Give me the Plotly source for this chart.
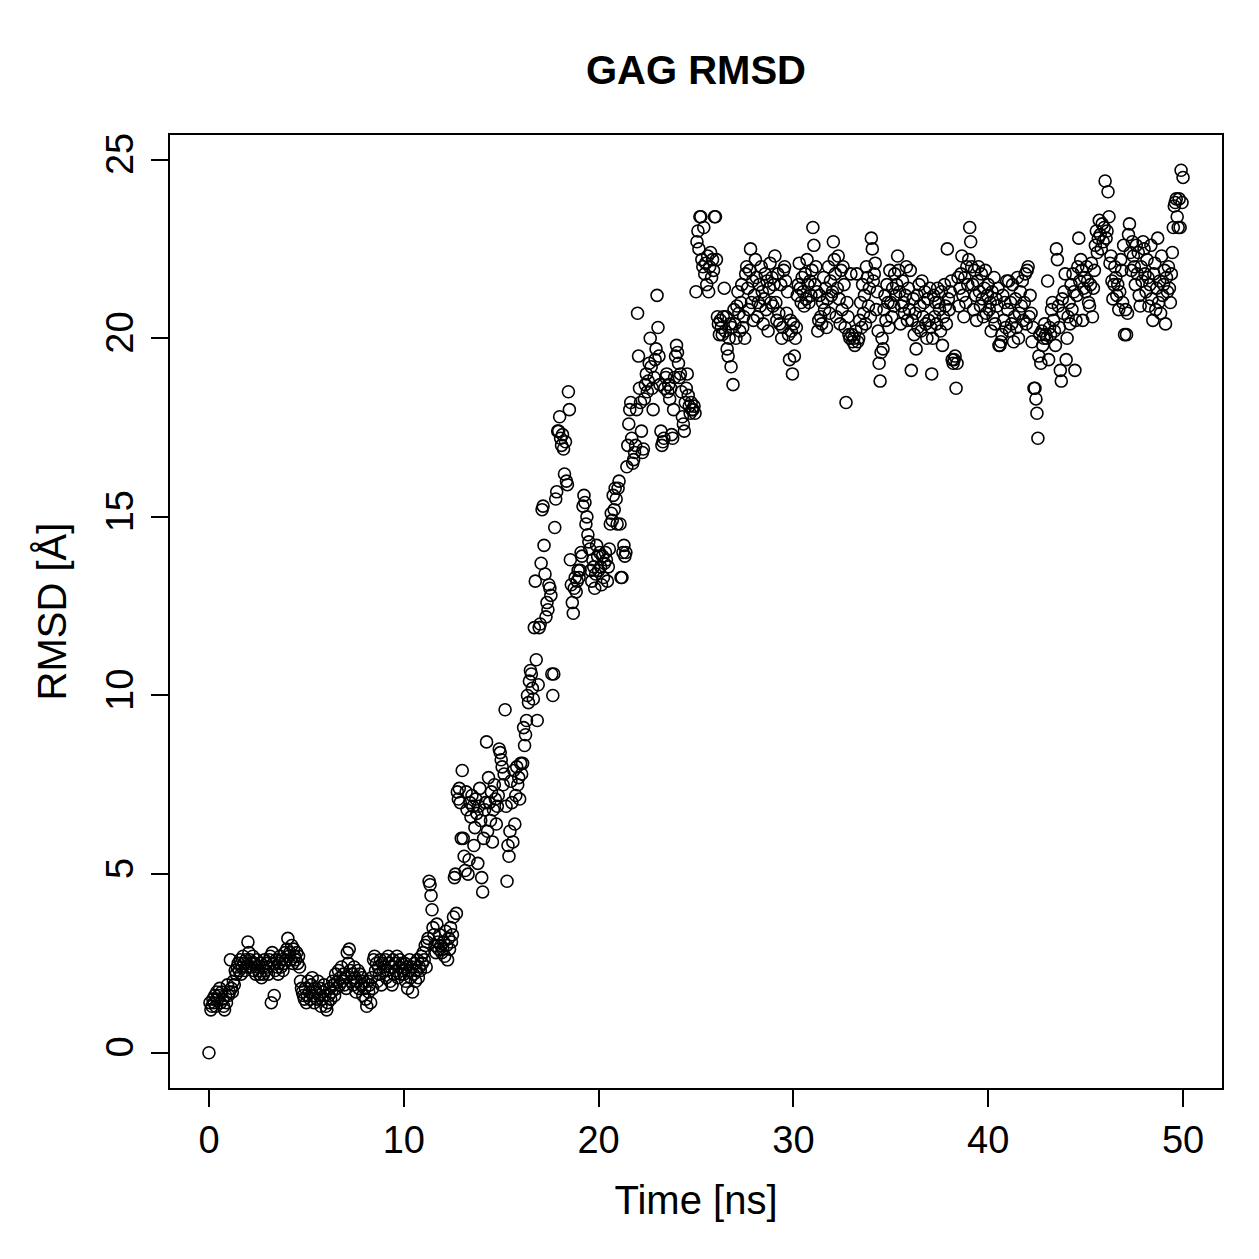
import numpy as np
import plotly.graph_objects as go

# RMSD values (Angstrom), one row per nanosecond, sampled every 0.05 ns
rmsd_00_10 = [
    0.0, 1.4, 1.2, 1.3, 1.5, 1.4, 1.6, 1.3, 1.7, 1.5, 1.6, 1.8, 1.4, 1.7, 1.5, 1.3, 1.2, 1.6, 1.4, 1.9,
    1.6, 1.7, 2.6, 1.8, 1.7, 2.0, 1.9, 2.3, 2.2, 2.4, 2.5, 2.3, 2.6, 2.2, 2.4, 2.7, 2.5, 2.3, 2.6, 2.4,
    3.1, 2.8, 2.6, 2.5, 2.4, 2.7, 2.3, 2.5, 2.2, 2.6, 2.4, 2.3, 2.2, 2.5, 2.1, 2.4, 2.2, 2.6, 2.3, 2.5,
    2.4, 2.2, 2.6, 2.7, 1.4, 2.8, 2.5, 1.6, 2.3, 2.6, 2.4, 2.2, 2.5, 2.7, 2.4, 2.6, 2.3, 2.5, 2.8, 2.6,
    2.9, 3.2, 2.7, 2.8, 2.6, 3.0, 2.5, 2.9, 2.7, 2.6, 2.8, 2.5, 2.7, 2.4, 2.0, 1.8, 1.7, 1.6, 1.5, 1.8,
    1.4, 1.6, 2.0, 1.7, 1.5, 1.9, 2.1, 1.6, 1.4, 1.8, 1.7, 1.5, 2.0, 1.6, 1.8, 1.3, 1.5, 1.7, 1.9, 1.6,
    1.3, 1.2, 1.4, 1.6, 1.8, 1.5, 1.7, 2.0, 1.9, 1.6, 2.2, 1.8, 2.0, 2.3, 1.9, 2.1, 2.4, 2.0, 2.2, 1.9,
    2.1, 1.8, 2.8, 2.5, 2.9, 2.3, 2.0, 2.2, 1.9, 2.4, 2.1, 1.7, 2.0, 2.3, 1.8, 2.2, 1.9, 2.1, 1.6, 2.0,
    1.8, 1.5, 1.3, 2.0, 1.7, 1.9, 1.4, 2.1, 1.8, 2.6, 2.7, 2.3, 2.5, 2.0, 2.4, 2.2, 2.6, 1.9, 2.5, 2.3,
    2.4, 2.6, 2.1, 2.3, 2.7, 2.5, 2.0, 2.4, 1.9, 2.6, 2.2, 2.5, 2.3, 2.7, 2.1, 2.4, 2.6, 2.2, 2.5, 2.3,
]
rmsd_10_20 = [
    2.2, 2.5, 2.0, 2.4, 1.8, 2.3, 2.6, 2.1, 2.4, 1.7, 2.2, 2.5, 2.0, 2.3, 2.6, 2.1, 2.4, 2.3, 2.7, 2.5,
    2.8, 2.6, 3.0, 2.4, 3.1, 3.2, 4.8, 4.7, 4.4, 4.0, 3.5, 3.3, 3.0, 2.8, 3.6, 3.1, 2.9, 3.3, 3.0, 2.8,
    2.9, 3.1, 2.7, 3.4, 3.0, 2.6, 3.2, 2.9, 3.5, 3.1, 3.3, 3.8, 4.9, 5.0, 3.9, 7.3, 7.1, 7.4, 7.0, 6.0,
    7.9, 6.0, 5.5, 5.1, 7.3, 6.8, 5.0, 5.4, 7.0, 6.6, 7.2, 6.9, 5.8, 6.3, 7.1, 6.7, 5.3, 6.9, 7.4, 6.5,
    4.9, 4.5, 6.0, 6.8, 7.0, 8.7, 6.2, 7.7, 7.0, 6.5, 7.3, 5.9, 6.8, 7.5, 7.1, 6.4, 6.9, 7.2, 8.5, 8.4,
    8.2, 8.0, 7.5, 7.8, 9.6, 6.9, 4.8, 5.8, 5.5, 6.2, 7.6, 7.0, 5.9, 7.9, 6.4, 7.2, 8.0, 7.5, 7.7, 7.1,
    8.1, 7.8, 8.1, 9.1, 8.6, 8.9, 9.3, 10.0, 9.8, 10.4, 10.7, 10.6, 10.2, 9.9, 11.9, 13.2, 11.0, 9.3, 10.3, 11.9,
    12.0, 13.7, 15.2, 15.3, 14.2, 13.4, 12.2, 12.6, 12.4, 13.1, 13.0, 12.8, 10.6, 10.0, 10.6, 14.7, 15.5, 15.7, 17.4, 17.4,
    17.8, 17.2, 17.0, 17.3, 16.9, 16.2, 17.1, 16.0, 15.9, 18.5, 18.0, 13.8, 13.1, 12.6, 12.3, 13.0, 13.3, 12.9, 13.2, 13.5,
    13.3, 13.5, 14.0, 13.9, 15.3, 15.6, 15.4, 14.8, 15.0, 14.5, 14.3, 14.1, 13.5, 13.2, 13.8, 13.6, 13.0, 13.4, 14.2, 13.9,
]
rmsd_20_30 = [
    13.5, 14.0, 13.6, 13.1, 13.9, 13.3, 13.7, 14.0, 13.8, 13.2, 13.6, 14.1, 14.8, 15.1, 14.9, 15.6, 15.2, 15.8, 15.5, 14.8,
    15.8, 16.0, 14.8, 13.3, 13.3, 14.0, 14.2, 13.9, 14.0, 16.4, 17.0, 17.6, 18.0, 18.2, 17.2, 16.5, 16.6, 16.8, 17.0, 18.0,
    20.7, 19.5, 18.6, 18.2, 17.4, 16.8, 16.9, 18.3, 18.7, 19.0, 18.5, 18.8, 19.3, 20.0, 19.2, 18.6, 18.0, 18.9, 19.4, 19.7,
    21.2, 20.3, 19.5, 18.7, 17.4, 17.0, 17.1, 17.2, 18.6, 18.9, 19.0, 18.5, 18.7, 18.3, 18.6, 17.3, 17.2, 18.0, 18.9, 19.5,
    19.8, 19.6, 19.3, 18.9, 19.0, 18.5, 17.8, 17.6, 17.4, 18.2, 18.6, 19.0, 18.4, 18.1, 17.9, 18.2, 18.0, 18.0, 18.1, 17.9,
    21.3, 22.7, 23.0, 22.5, 23.4, 23.4, 22.2, 22.0, 23.1, 21.8, 22.1, 21.5, 22.3, 21.3, 22.0, 22.4, 21.7, 22.2, 21.9, 23.4,
    23.4, 22.2, 20.6, 20.4, 20.1, 20.5, 20.3, 20.1, 20.6, 21.4, 20.2, 20.6, 19.7, 19.5, 20.0, 20.4, 19.2, 20.3, 18.7, 20.8,
    20.4, 20.0, 20.9, 21.3, 20.7, 20.2, 21.0, 21.5, 20.3, 20.6, 20.0, 21.8, 22.0, 21.4, 20.8, 21.9, 22.5, 21.0, 21.6, 20.5,
    21.2, 22.2, 21.7, 20.6, 21.0, 21.5, 20.9, 22.0, 21.3, 20.4, 21.1, 21.8, 20.8, 21.6, 20.2, 21.4, 22.1, 21.0, 21.7, 20.9,
    21.5, 22.3, 21.0, 20.5, 21.8, 20.7, 20.4, 21.5, 20.0, 20.3, 21.9, 22.0, 21.6, 20.7, 21.3, 20.1, 19.4, 20.5, 20.2, 19.0,
]
rmsd_30_40 = [
    20.4, 19.5, 20.0, 20.3, 21.2, 21.5, 22.1, 21.4, 21.0, 21.7, 21.3, 20.9, 21.8, 21.1, 22.2, 21.5, 21.0, 21.6, 21.2, 21.9,
    23.1, 22.6, 21.5, 22.0, 21.3, 20.2, 20.5, 21.2, 20.6, 20.4, 21.0, 21.7, 20.8, 21.4, 20.3, 21.1, 22.0, 20.7, 21.6, 21.2,
    21.3, 22.7, 22.2, 21.8, 20.6, 21.4, 22.3, 21.1, 20.4, 21.9, 20.8, 22.0, 21.5, 20.3, 18.2, 21.0, 20.6, 20.1, 20.0, 21.8,
    20.1, 19.9, 20.0, 19.8, 20.2, 21.8, 19.9, 20.0, 20.5, 21.0, 20.3, 21.5, 20.7, 21.2, 20.4, 22.0, 21.7, 20.9, 21.4, 20.6,
    22.8, 22.5, 21.6, 21.8, 22.1, 20.8, 21.3, 20.2, 19.3, 18.8, 19.6, 20.0, 19.7, 20.8, 21.2, 20.5, 21.5, 21.0, 20.3, 21.9,
    21.0, 20.6, 21.4, 20.9, 21.8, 21.2, 21.5, 22.3, 21.9, 21.3, 20.4, 20.9, 21.6, 21.0, 20.7, 21.2, 22.0, 20.5, 21.4, 20.8,
    21.9, 19.1, 20.5, 21.1, 20.1, 20.7, 19.7, 21.2, 20.3, 21.5, 20.9, 20.2, 21.6, 20.6, 21.0, 21.3, 20.4, 20.0, 21.1, 20.5,
    21.4, 20.3, 19.0, 20.0, 21.2, 20.6, 21.0, 20.4, 21.4, 21.0, 20.8, 20.2, 21.3, 19.8, 20.6, 21.5, 20.9, 20.4, 22.5, 21.1,
    20.8, 21.3, 21.6, 19.4, 19.3, 19.4, 19.5, 18.6, 19.3, 21.7, 20.9, 21.4, 21.8, 22.3, 21.2, 20.6, 21.7, 21.0, 22.0, 21.5,
    22.2, 23.1, 22.7, 22.0, 21.5, 20.8, 21.9, 21.2, 20.5, 21.6, 22.0, 21.3, 20.9, 21.8, 21.1, 20.6, 21.4, 21.9, 20.7, 21.2,
]
rmsd_40_50 = [
    21.5, 20.8, 21.0, 20.2, 21.3, 20.6, 21.7, 20.4, 21.1, 20.9, 21.4, 19.8, 19.8, 19.9, 20.1, 21.2, 20.5, 21.0, 20.3, 21.6,
    20.8, 21.6, 20.2, 21.0, 20.4, 21.5, 19.9, 20.6, 21.1, 20.3, 21.7, 20.0, 20.7, 21.3, 20.9, 21.6, 20.5, 21.0, 21.8, 20.4,
    21.9, 22.0, 20.6, 21.2, 20.7, 19.9, 20.3, 18.6, 18.6, 18.3, 17.9, 17.2, 19.5, 20.1, 19.3, 20.2, 19.8, 20.0, 20.4, 20.1,
    20.0, 21.6, 19.4, 20.3, 20.1, 20.8, 21.0, 20.5, 20.2, 19.8, 22.5, 22.2, 20.9, 20.3, 19.1, 18.8, 21.1, 20.7, 21.3, 21.8,
    19.4, 20.0, 20.6, 21.0, 20.4, 21.5, 20.8, 21.8, 21.3, 19.1, 20.5, 21.2, 22.0, 22.8, 21.6, 22.2, 21.9, 20.5, 21.4, 21.7,
    21.3, 22.0, 21.6, 21.0, 20.9, 21.5, 22.1, 20.6, 21.4, 21.9, 22.6, 23.0, 22.4, 22.8, 23.3, 22.9, 22.5, 23.2, 22.7, 23.1,
    24.4, 22.8, 23.0, 24.1, 23.4, 22.1, 22.3, 21.6, 21.1, 21.5, 22.0, 21.7, 21.2, 21.5, 20.8, 21.3, 22.2, 21.9, 21.0, 22.6,
    20.1, 20.8, 20.1, 20.7, 22.9, 23.2, 22.4, 21.9, 22.7, 22.3, 22.0, 21.5, 22.6, 21.8, 22.4, 21.2, 20.9, 22.0, 21.6, 22.7,
    22.5, 21.8, 21.3, 22.2, 21.7, 20.9, 21.5, 22.6, 21.1, 20.5, 21.8, 22.1, 20.8, 21.4, 22.8, 21.0, 21.6, 20.7, 22.3, 21.2,
    21.5, 21.9, 20.4, 21.7, 21.3, 22.0, 21.4, 21.0, 21.8, 22.4, 23.1, 23.7, 23.8, 23.9, 23.4, 23.1, 23.9, 23.1, 24.7, 23.8,
    24.5,
]

rmsd = rmsd_00_10 + rmsd_10_20 + rmsd_20_30 + rmsd_30_40 + rmsd_40_50
time_ns = np.linspace(0, 50, len(rmsd))

x_ticks = [0, 10, 20, 30, 40, 50]
y_ticks = [0, 5, 10, 15, 20, 25]

FONT = "Liberation Sans, Arial, Helvetica, sans-serif"

fig = go.Figure()
fig.add_trace(go.Scatter(
    x=time_ns, y=rmsd, mode="markers",
    marker=dict(symbol="circle-open", size=12, color="black", line=dict(width=1.6, color="black")),
    showlegend=False, hoverinfo="x+y",
))

axis_common = dict(
    showgrid=False, zeroline=False, showline=True, linecolor="black", linewidth=2,
    mirror=True, ticks="outside", ticklen=17, tickwidth=2, tickcolor="black",
    tickfont=dict(family=FONT, size=38, color="black"),
)

fig.update_layout(
    width=1259, height=1259, autosize=False,
    paper_bgcolor="white", plot_bgcolor="white",
    margin=dict(l=170, r=37, t=135, b=171),
    title=dict(text="<b>GAG RMSD</b>", x=(170 + 1222) / 2 / 1259, xanchor="center",
               y=1 - 70 / 1259, yanchor="middle", yref="container",
               font=dict(family=FONT, size=40, color="black")),
    xaxis=dict(range=[-2, 52], tickvals=x_ticks, ticktext=[str(v) for v in x_ticks],
               title=dict(text="Time [ns]", font=dict(family=FONT, size=40, color="black"), standoff=26),
               ticklabelstandoff=0, **axis_common),
    yaxis=dict(range=[-0.988, 25.688], tickvals=y_ticks, ticktext=[str(v) for v in y_ticks],
               tickangle=-90,
               title=dict(text="RMSD [Å]", font=dict(family=FONT, size=40, color="black"), standoff=20),
               ticklabelstandoff=3, **axis_common),
)

fig.write_html("out.html")
